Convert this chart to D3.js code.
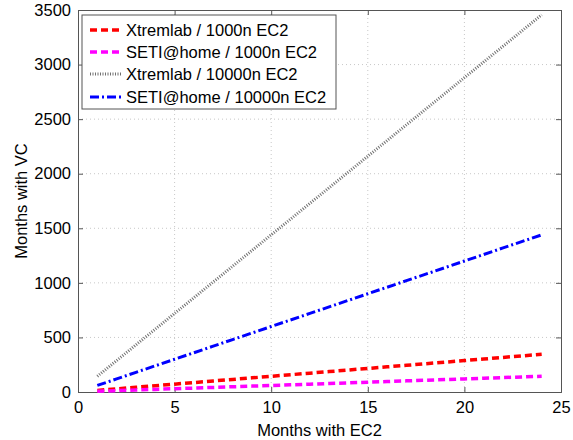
<!DOCTYPE html>
<html><head><meta charset="utf-8">
<script src="https://cdn.jsdelivr.net/npm/d3@7"></script>
<style>body{margin:0;background:#fff}svg{display:block;font-family:"Liberation Sans",Arial,Helvetica,sans-serif}</style>
</head><body>
<script>
const months = [1,2,3,4,5,6,7,8,9,10,11,12,13,14,15,16,17,18,19,20,21,22,23,24];
const xtrem1000 = [14.4,28.8,43.2,57.6,72,86.4,100.8,115.2,129.6,144,158.4,172.8,187.2,201.6,216,230.4,244.8,259.2,273.6,288,302.4,316.8,331.2,345.6];
const seti1000 = [6,12,18,24,30,36,42,48,54,60,66,72,78,84,90,96,102,108,114,120,126,132,138,144];
const xtrem10000 = [144,288,432,576,720,864,1008,1152,1296,1440,1584,1728,1872,2016,2160,2304,2448,2592,2736,2880,3024,3168,3312,3456];
const seti10000 = [60,120,180,240,300,360,420,480,540,600,660,720,780,840,900,960,1020,1080,1140,1200,1260,1320,1380,1440];
const seriesNames = ["Xtremlab / 1000n EC2","SETI@home / 1000n EC2","Xtremlab / 10000n EC2","SETI@home / 10000n EC2"];
const xTicks = [0,5,10,15,20,25];
const yTicks = [0,500,1000,1500,2000,2500,3000,3500];

const W=573,H=440, L=78,R=561,T=10,B=392, FS=16.5;
const svg=d3.select("body").append("svg").attr("width",W).attr("height",H);
const x=d3.scaleLinear().domain([0,25]).range([L,R]);
const y=d3.scaleLinear().domain([0,3500]).range([B,T]);

// grid
const g=svg.append("g");
g.selectAll(".gx").data(xTicks.slice(1,-1)).join("line").attr("x1",d=>x(d)).attr("x2",d=>x(d)).attr("y1",T).attr("y2",B)
 .attr("stroke","#c8c8c8").attr("stroke-width",1).attr("stroke-dasharray","1,3");
g.selectAll(".gy").data(yTicks.slice(1,-1)).join("line").attr("y1",d=>y(d)).attr("y2",d=>y(d)).attr("x1",L).attr("x2",R)
 .attr("stroke","#c8c8c8").attr("stroke-width",1).attr("stroke-dasharray","1,3");

// axes
const fmt=d3.format("d");
const ax=svg.append("g").attr("transform",`translate(0,${B})`).call(d3.axisBottom(x).tickValues(xTicks).tickFormat(fmt).tickSize(-5).tickPadding(9));
const ay=svg.append("g").attr("transform",`translate(${L},0)`).call(d3.axisLeft(y).tickValues(yTicks).tickFormat(fmt).tickSize(-5).tickPadding(7));
const at=svg.append("g").attr("transform",`translate(0,${T})`).call(d3.axisTop(x).tickValues(xTicks).tickSize(-5).tickFormat(""));
const ar=svg.append("g").attr("transform",`translate(${R},0)`).call(d3.axisRight(y).tickValues(yTicks).tickSize(-5).tickFormat(""));
[ax,ay,at,ar].forEach(a=>{a.attr("font-size",FS).attr("font-family","Liberation Sans, Arial, sans-serif");
 a.select(".domain").attr("stroke","#555");a.selectAll(".tick line").attr("stroke","#555");
 a.selectAll("text").attr("fill","#000");});

// lines
const line=(ys)=>d3.line().x((d,i)=>x(months[i])).y(d=>y(d))(ys);
const styles=[
 {data:xtrem1000,color:"#ff0000",w:3.5,dash:"7,4"},
 {data:seti1000,color:"#ff00ff",w:3.5,dash:"7,4"},
 {data:xtrem10000,color:"#707070",w:3,dash:"1,1.5"},
 {data:seti10000,color:"#0000ff",w:3,dash:"9,3,2,3"}
];
styles.forEach(s=>svg.append("path").attr("d",line(s.data)).attr("fill","none").attr("stroke",s.color).attr("stroke-width",s.w).attr("stroke-dasharray",s.dash));

// legend
const lg=svg.append("g");
lg.append("rect").attr("x",82).attr("y",15).attr("width",254).attr("height",94).attr("fill","#fff").attr("stroke","#555").attr("stroke-width",1);
const rows=[30,52,74,97];
styles.forEach((s,i)=>{
 lg.append("line").attr("x1",90).attr("x2",122).attr("y1",rows[i]).attr("y2",rows[i]).attr("stroke",s.color).attr("stroke-width",s.w).attr("stroke-dasharray",s.dash);
 lg.append("text").attr("x",126).attr("y",rows[i]).attr("dy","0.35em").attr("font-size",FS).text(seriesNames[i]);
});

// labels
svg.append("text").attr("x",(L+R)/2).attr("y",436).attr("text-anchor","middle").attr("font-size",FS).text("Months with EC2");
svg.append("text").attr("transform",`translate(27,${(T+B)/2}) rotate(-90)`).attr("text-anchor","middle").attr("font-size",FS).text("Months with VC");
</script>
</body></html>
